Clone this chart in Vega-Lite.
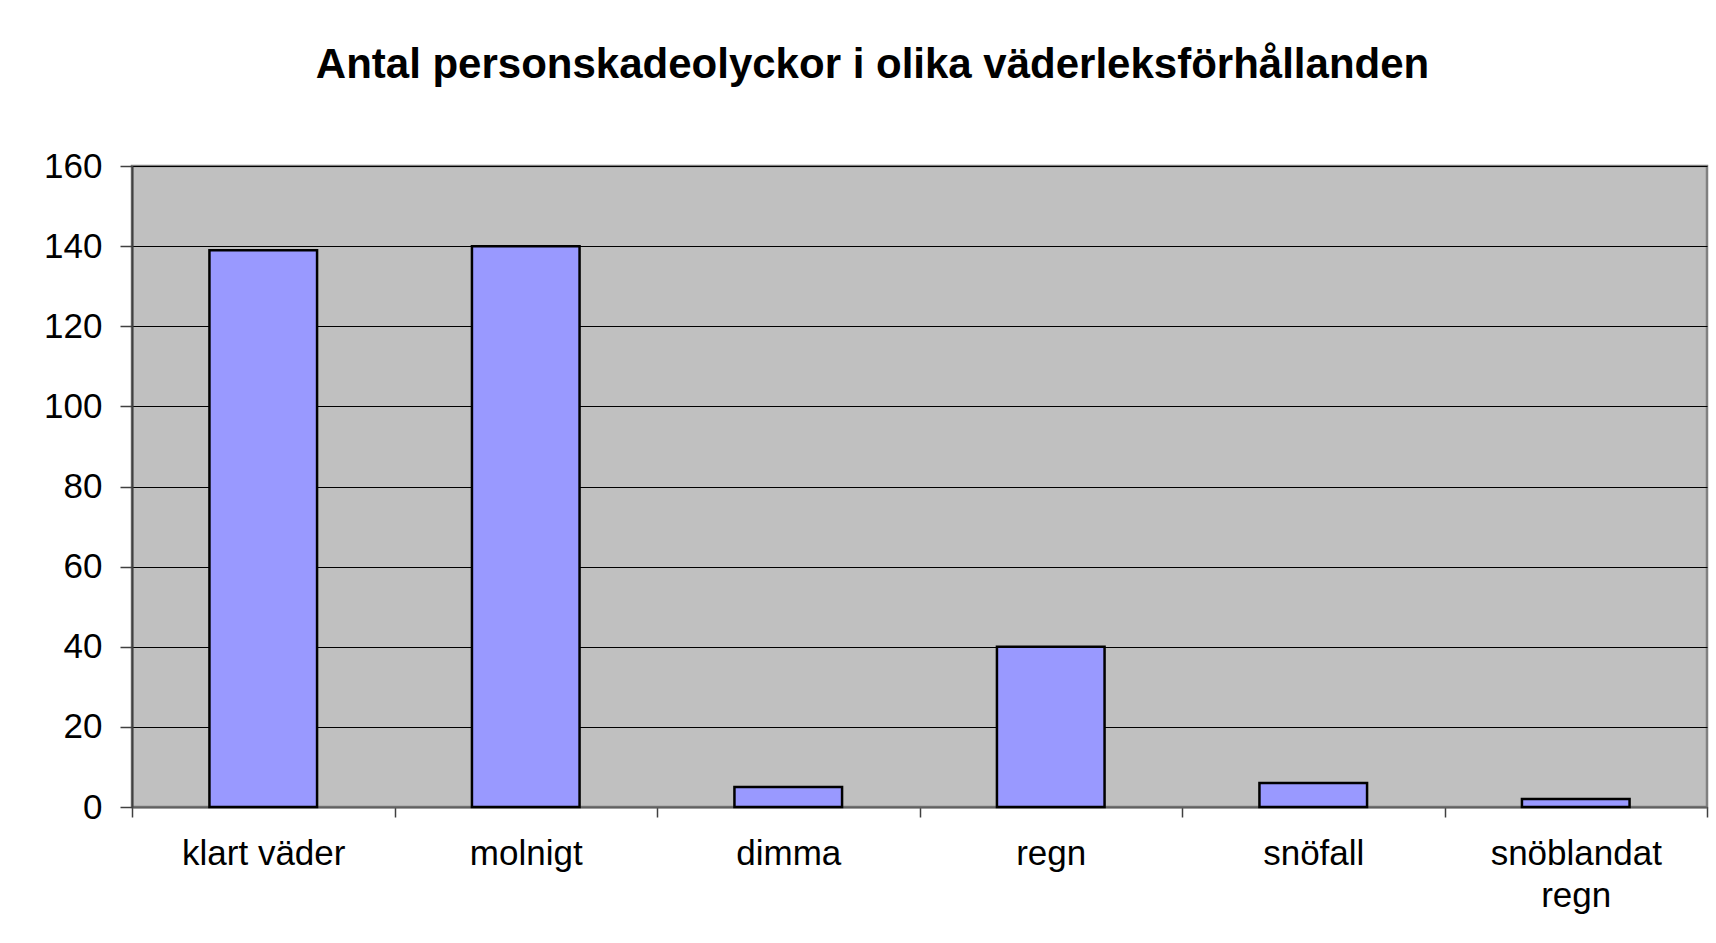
{
  "$schema": "https://vega.github.io/schema/vega-lite/v6.json",
  "autosize": {"type": "none"},
  "padding": {"left": 132, "top": 166, "right": 9, "bottom": 136},
  "width": 1575,
  "height": 641,
  "background": "white",
  "title": {
    "text": "Antal personskadeolyckor i olika väderleksförhållanden",
    "font": "Liberation Sans",
    "fontSize": 42,
    "fontWeight": "bold",
    "color": "black",
    "anchor": "middle",
    "frame": "group",
    "dx": -47,
    "offset": 62
  },
  "data": {
    "values": [
      {"väder": "klart väder", "antal": 139},
      {"väder": "molnigt", "antal": 140},
      {"väder": "dimma", "antal": 5},
      {"väder": "regn", "antal": 40},
      {"väder": "snöfall", "antal": 6},
      {"väder": "snöblandat regn", "antal": 2}
    ]
  },
  "mark": {"type": "bar", "color": "#9999FF", "stroke": "black", "strokeWidth": 2.5, "width": {"band": 0.41}},
  "encoding": {
    "x": {
      "field": "väder",
      "type": "nominal",
      "sort": null,
      "scale": {"paddingInner": 0, "paddingOuter": 0},
      "axis": {
        "title": null,
        "labelAngle": 0,
        "labelFont": "Liberation Sans",
        "labelFontSize": 35,
        "labelColor": "black",
        "labelPadding": 19,
        "labelLineHeight": 42,
        "labelExpr": "datum.value == 'snöblandat regn' ? ['snöblandat', 'regn'] : datum.value",
        "tickBand": "extent",
        "tickSize": 10,
        "tickColor": "#404040",
        "tickWidth": 1.5,
        "domainColor": "#606060",
        "domainWidth": 2,
        "grid": false
      }
    },
    "y": {
      "field": "antal",
      "type": "quantitative",
      "scale": {"domain": [0, 160], "nice": false},
      "axis": {
        "title": null,
        "values": [0, 20, 40, 60, 80, 100, 120, 140, 160],
        "labelFont": "Liberation Sans",
        "labelFontSize": 35,
        "labelColor": "black",
        "labelPadding": 18,
        "tickSize": 12,
        "tickColor": "#404040",
        "tickWidth": 1.5,
        "domainColor": "#404040",
        "domainWidth": 2,
        "grid": true,
        "gridColor": "black",
        "gridWidth": 1,
        "gridOpacity": 1
      }
    }
  },
  "config": {
    "view": {"fill": "#C0C0C0", "stroke": "#808080", "strokeWidth": 2.5}
  }
}
